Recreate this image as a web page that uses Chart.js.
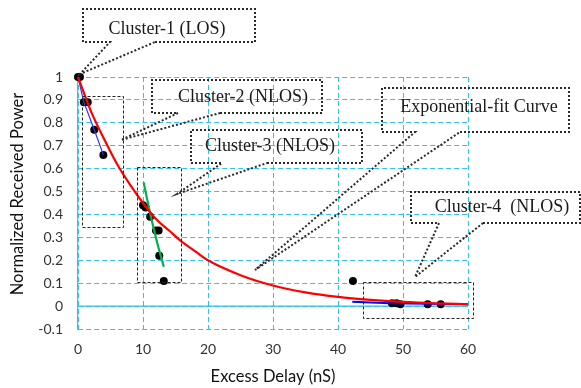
<!DOCTYPE html>
<html>
<head>
<meta charset="utf-8">
<script src="https://cdn.jsdelivr.net/npm/chart.js@4.4.0/dist/chart.umd.min.js"></script>
<style>
  html, body { margin: 0; padding: 0; background: #fff; }
</style>
</head>
<body>
<canvas id="myChart" width="581" height="388"></canvas>
<script>
// measured points (excess delay in nS, normalized power)
const pointX = [0, 0.3, 0.9, 1.5, 2.5, 3.9, 10.0, 10.4, 11.1, 12.0, 12.4, 12.5, 13.2, 42.3, 48.3, 49.0, 49.6, 53.8, 55.8]
const pointY = [1, 1, 0.89, 0.89, 0.77, 0.66, 0.44, 0.43, 0.39, 0.33, 0.33, 0.22, 0.11, 0.11, 0.012, 0.012, 0.008, 0.008, 0.008]

// exponential fit curve
const fitX = [0, 2, 4, 6, 8, 10, 12, 14, 16, 18, 20, 25, 30, 35, 40, 45, 50, 55, 60]
const fitY = [1, 0.85, 0.73, 0.62, 0.53, 0.45, 0.38, 0.33, 0.28, 0.24, 0.2, 0.135, 0.09, 0.06, 0.04, 0.027, 0.018, 0.012, 0.008]

// per-cluster fit lines
const c2X = [0, 0.9, 2.5, 3.9]
const c2Y = [1, 0.89, 0.77, 0.66]
const c3X = [10.1, 11.1, 12.2, 13.2]
const c3Y = [0.54, 0.405, 0.274, 0.172]
const c4X = [42.2, 48, 60]
const c4Y = [0.019, 0.012, 0.008]

const xTicks = [0, 10, 20, 30, 40, 50, 60]
const yTicks = [-0.1, 0, 0.1, 0.2, 0.3, 0.4, 0.5, 0.6, 0.7, 0.8, 0.9, 1]

const xTitle = 'Excess Delay (nS)'
const yTitle = 'Normalized Received Power'

// dashed boxes round each cluster, in data units [x1, x2, yTop, yBottom]
const clusterBoxes = [
    [0.68, 7.0, 0.917, 0.345],
    [9.08, 15.9, 0.606, 0.106],
    [43.8, 60.8, 0.106, -0.051]
]

// callouts in pixels: box, tail base x's, tail tip, text and its centre
const callouts = [
    { text: 'Cluster-1 (LOS)', at: [167, 29], box: [83, 9, 255, 42], tail: [110, 155], tip: [80, 74] },
    { text: 'Cluster-2 (NLOS)', at: [243, 97], box: [152, 80, 322, 113], tail: [178, 220], tip: [121, 140] },
    { text: 'Cluster-3 (NLOS)', at: [270, 146], box: [191, 130, 362, 163], tail: [222, 267], tip: [177, 194] },
    { text: 'Exponential-fit Curve', at: [479, 107], box: [382, 88, 569, 132], tail: [415, 460], tip: [255, 270] },
    { text: 'Cluster-4  (NLOS)', at: [502, 207], box: [411, 192, 580, 223], tail: [439, 483], tip: [415, 277] }
]

const gridBlue = '#33bff0'
const tickFont = { family: 'Lato', size: 14 }

function pairs(xs, ys) {
    return xs.map((x, i) => ({ x: x, y: ys[i] }))
}

const extras = {
    id: 'extras',
    beforeDatasetsDraw(chart) {
        const { ctx, chartArea, scales } = chart
        // solid zero line
        const y0 = scales.y.getPixelForValue(0)
        ctx.save()
        ctx.strokeStyle = gridBlue
        ctx.lineWidth = 1.2
        ctx.beginPath()
        ctx.moveTo(chartArea.left, y0)
        ctx.lineTo(chartArea.right, y0)
        ctx.stroke()
        ctx.restore()
    },
    afterDraw(chart) {
        const { ctx, scales } = chart
        ctx.save()

        // cluster boxes
        ctx.strokeStyle = '#222'
        ctx.lineWidth = 1
        ctx.setLineDash([3, 2])
        clusterBoxes.forEach(b => {
            const x1 = scales.x.getPixelForValue(b[0]), x2 = scales.x.getPixelForValue(b[1])
            const y1 = scales.y.getPixelForValue(b[2]), y2 = scales.y.getPixelForValue(b[3])
            ctx.strokeRect(Math.round(x1) + 0.5, Math.round(y1) + 0.5, Math.round(x2 - x1), Math.round(y2 - y1))
        })

        // callouts
        ctx.lineWidth = 2
        ctx.setLineDash([2, 2])
        ctx.strokeStyle = '#2a2a2a'
        callouts.forEach(c => {
            const [l, t, r, b] = c.box
            ctx.beginPath()
            ctx.moveTo(c.tail[1], b)
            ctx.lineTo(r, b)
            ctx.lineTo(r, t)
            ctx.lineTo(l, t)
            ctx.lineTo(l, b)
            ctx.lineTo(c.tail[0], b)
            ctx.lineTo(c.tip[0], c.tip[1])
            ctx.lineTo(c.tail[1], b)
            ctx.stroke()
        })
        ctx.setLineDash([])
        ctx.fillStyle = '#1a1a1a'
        ctx.font = '18px "Liberation Serif"'
        ctx.textAlign = 'center'
        ctx.textBaseline = 'middle'
        callouts.forEach(c => {
            ctx.fillText(c.text, c.at[0], c.at[1])
        })

        // axis titles
        ctx.fillStyle = '#111'
        ctx.font = '16.5px Lato'
        ctx.fillText(xTitle, (chart.chartArea.left + chart.chartArea.right) / 2, 377)
        ctx.translate(18, 194)
        ctx.rotate(-Math.PI / 2)
        ctx.fillText(yTitle, 0, 0)
        ctx.restore()
    }
}

const ctx = document.getElementById('myChart').getContext('2d')
const myChart = new Chart(ctx, {
    type: 'scatter',
    data: {
        datasets: [{
            label: 'Exponential fit',
            data: pairs(fitX, fitY),
            showLine: true,
            borderColor: '#ff0000',
            borderWidth: 2.2,
            pointRadius: 0,
            cubicInterpolationMode: 'monotone',
            clip: false,
            order: 0
        }, {
            label: 'Cluster-3 fit',
            data: pairs(c3X, c3Y),
            showLine: true,
            borderColor: '#00b050',
            borderWidth: 2.2,
            pointRadius: 0,
            tension: 0.3,
            order: 1
        }, {
            label: 'Cluster-2 fit',
            data: pairs(c2X, c2Y),
            showLine: true,
            borderColor: '#3333ff',
            borderWidth: 1.2,
            pointRadius: 0,
            clip: false,
            order: 2
        }, {
            label: 'Cluster-4 fit',
            data: pairs(c4X, c4Y),
            showLine: true,
            borderColor: '#0000ff',
            borderWidth: 2,
            pointRadius: 0,
            order: 3
        }, {
            label: 'Measured',
            data: pairs(pointX, pointY),
            backgroundColor: '#000',
            borderColor: '#000',
            pointRadius: 4,
            pointBorderWidth: 0,
            clip: false,
            order: 4
        }]
    },
    options: {
        responsive: false,
        animation: false,
        devicePixelRatio: 1,
        layout: { padding: { top: 77, right: 113, left: 0, bottom: 0 } },
        plugins: { legend: { display: false }, tooltip: { enabled: false } },
        scales: {
            x: {
                type: 'linear',
                min: xTicks[0],
                max: xTicks[xTicks.length - 1],
                afterBuildTicks: s => { s.ticks = xTicks.map(v => ({ value: v })) },
                ticks: { color: '#333', font: tickFont, padding: 12 },
                grid: { color: gridBlue, drawTicks: false },
                border: { display: false, dash: [5, 3] },
                afterFit: s => { s.height = 59 }
            },
            y: {
                min: yTicks[0],
                max: yTicks[yTicks.length - 1],
                afterBuildTicks: s => { s.ticks = yTicks.map(v => ({ value: v })) },
                ticks: { color: '#333', font: tickFont, padding: 15, callback: v => String(Math.round(v * 10) / 10) },
                grid: { color: gridBlue, drawTicks: false },
                border: { display: true, color: gridBlue, width: 1.2, dash: [5, 3] },
                afterFit: s => { s.width = 78 }
            }
        }
    },
    plugins: [extras]
})
</script>
</body>
</html>
